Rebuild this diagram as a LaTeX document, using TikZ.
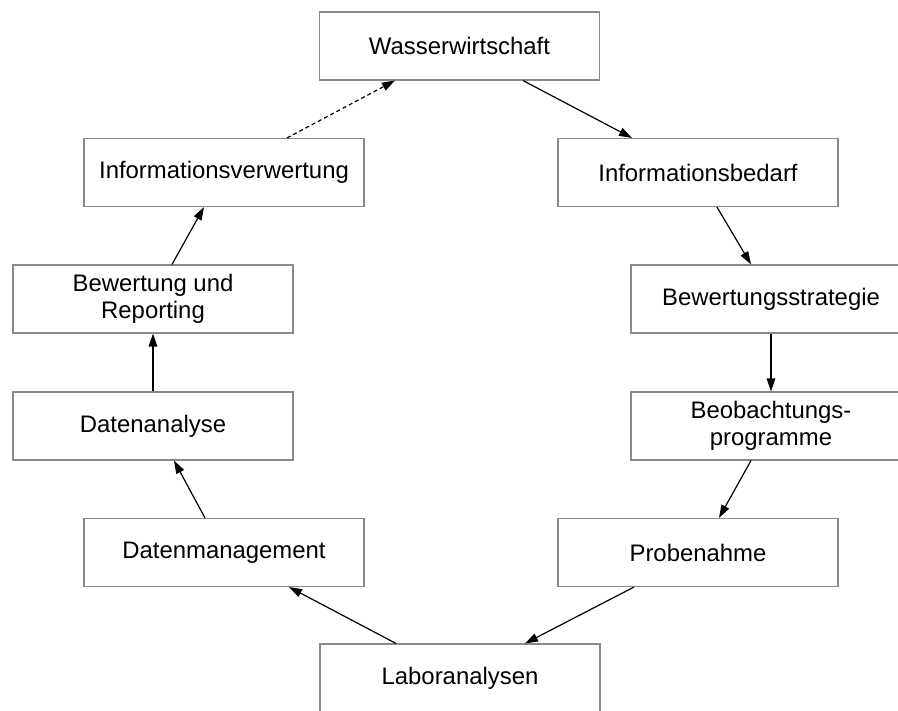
\documentclass[tikz,border=0pt]{standalone}
\usepackage{fontspec}
\setmainfont{Liberation Sans}
\usetikzlibrary{arrows.meta}
\definecolor{boxgray}{HTML}{8A8A8A}
\begin{document}
\begin{tikzpicture}[x=1pt,y=-1pt,
  stepbox/.style={draw=boxgray,line width=1.1pt,fill=white,
    minimum width=280pt,minimum height=68pt,inner sep=0pt,align=center,
    font=\fontsize{23.9}{27}\selectfont},
  flow/.style={line width=1.2pt,-{Triangle[length=13pt,width=8.5pt]}},
  weakflow/.style={flow,dash pattern=on 4pt off 3pt}]
\useasboundingbox (0,0) rectangle (898,711);

% process steps
\node[stepbox] (ww)    at (459.5,46)   {Wasserwirtschaft};
\node[stepbox] (ibd)   at (698,172.5)  {Informationsbedarf};
\node[stepbox] (bst)   at (771,299)    {Bewertungsstrategie};
\node[stepbox] (bprog) at (771,426)    {Beobachtungs-\\programme};
\node[stepbox] (pn)    at (698,552.5)  {Probenahme};
\node[stepbox] (la)    at (460,678)    {Laboranalysen};
\node[stepbox] (dm)    at (224,552.5)  {Datenmanagement};
\node[stepbox] (da)    at (153,426)    {Datenanalyse};
\node[stepbox] (bur)   at (153,299)    {Bewertung und\\Reporting};
\node[stepbox] (iv)    at (224,172.5)  {Informationsverwertung};

% cycle connectors
\draw[flow] ([xshift=63.5pt]ww.south) -- ([xshift=-66pt]ibd.north);
\draw[flow] ([xshift=19pt]ibd.south) -- ([xshift=-20pt]bst.north);
\draw[flow] (bst.south) -- (bprog.north);
\draw[flow] ([xshift=-20pt]bprog.south) -- ([xshift=21pt]pn.north);
\draw[flow] ([xshift=-64pt]pn.south) -- ([xshift=65pt]la.north);
\draw[flow] ([xshift=-64pt]la.north) -- ([xshift=65pt]dm.south);
\draw[flow] ([xshift=-19pt]dm.north) -- ([xshift=21pt]da.south);
\draw[flow] (da.north) -- (bur.south);
\draw[flow] ([xshift=19pt]bur.north) -- ([xshift=-20pt]iv.south);
\draw[weakflow] ([xshift=63pt]iv.north) -- ([xshift=-64.5pt]ww.south);
\end{tikzpicture}
\end{document}
